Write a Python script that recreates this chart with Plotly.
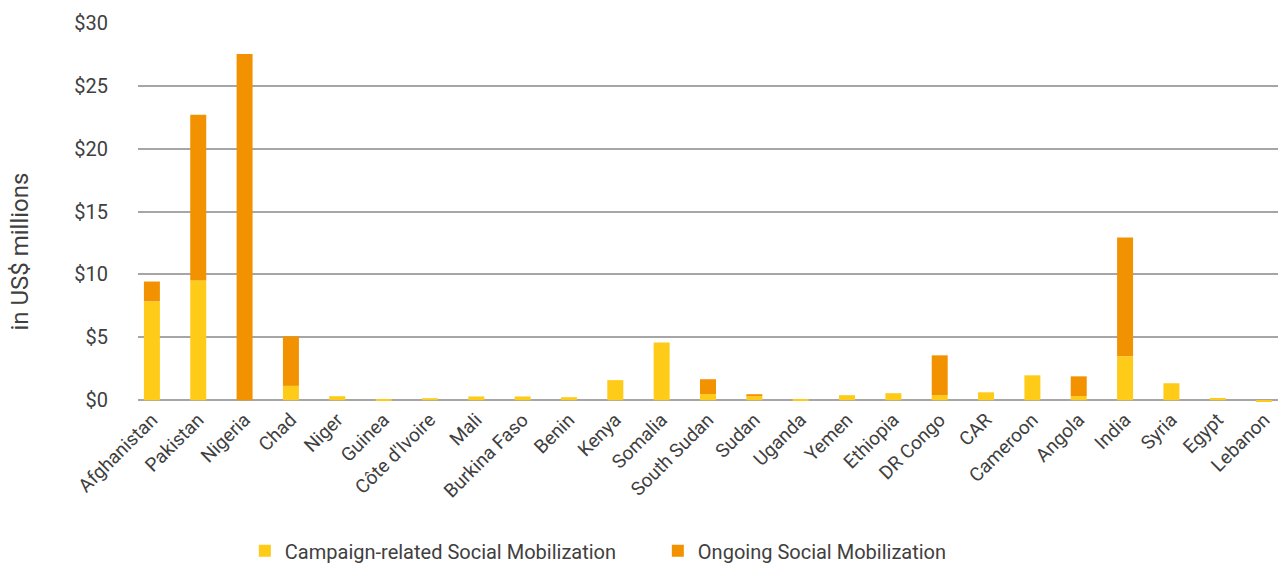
import plotly.graph_objects as go

countries = ["Afghanistan", "Pakistan", "Nigeria", "Chad", "Niger", "Guinea", "Côte d'Ivoire",
             "Mali", "Burkina Faso", "Benin", "Kenya", "Somalia", "South Sudan", "Sudan",
             "Uganda", "Yemen", "Ethiopia", "DR Congo", "CAR", "Cameroon", "Angola", "India",
             "Syria", "Egypt", "Lebanon"]

campaign = [7.86, 9.52, 0.0, 1.14, 0.32, 0.08, 0.16,
            0.30, 0.30, 0.24, 1.60, 4.60, 0.48, 0.32,
            0.08, 0.40, 0.56, 0.40, 0.63, 1.98, 0.32, 3.49,
            1.35, 0.18, -0.12]

ongoing = [1.58, 13.18, 27.54, 3.94, 0.0, 0.0, 0.0,
           0.0, 0.0, 0.0, 0.0, 0.0, 1.19, 0.16,
           0.0, 0.0, 0.0, 3.17, 0.0, 0.0, 1.58, 9.45,
           0.0, 0.0, 0.0]

y_ticks = [0, 5, 10, 15, 20, 25, 30]
y_tick_labels = ["$0", "$5", "$10", "$15", "$20", "$25", "$30"]
y_title = "in US$ millions"

YELLOW = "#FDCB18"
ORANGE = "#F39200"
FONT = "Roboto, DejaVu Sans, sans-serif"

fig = go.Figure()
fig.add_trace(go.Bar(x=countries, y=campaign, name="Campaign-related Social Mobilization",
                     marker=dict(color=YELLOW, line=dict(width=0)), cliponaxis=False))
fig.add_trace(go.Bar(x=countries, y=ongoing, name="Ongoing Social Mobilization",
                     marker=dict(color=ORANGE, line=dict(width=0)), cliponaxis=False))

fig.add_annotation(text=y_title, xref="paper", yref="paper", x=0, y=0.40,
                   xanchor="center", yanchor="middle", xshift=-118, textangle=-90,
                   showarrow=False, font=dict(size=24, color="#404040", family=FONT))

fig.update_layout(
    width=1278, height=565,
    barmode="relative",
    bargap=0.655,
    plot_bgcolor="white", paper_bgcolor="white",
    margin=dict(l=138, r=0, t=23, b=161, autoexpand=False),
    font=dict(family=FONT, color="#404040"),
    showlegend=True,
    legend=dict(orientation="h", x=0.456, xanchor="center", y=-0.334, yanchor="top",
                font=dict(size=20, color="#404040"), itemwidth=30,
                entrywidth=368, entrywidthmode="pixels", traceorder="normal"),
    xaxis=dict(type="category", range=[-0.3, 24.3], tickangle=-45,
               tickfont=dict(size=19, color="#404040"), showgrid=False,
               showline=False, ticks="", automargin=False),
    yaxis=dict(range=[-0.3, 30], tickvals=y_ticks, ticktext=y_tick_labels,
               tickfont=dict(size=20, color="#404040"), showgrid=True,
               gridcolor="#A6A6A6", gridwidth=1.5, zeroline=True,
               zerolinecolor="#A6A6A6", zerolinewidth=1.5, ticks="",
               ticklabelstandoff=29, automargin=False),
)

fig.write_html("out.html")
